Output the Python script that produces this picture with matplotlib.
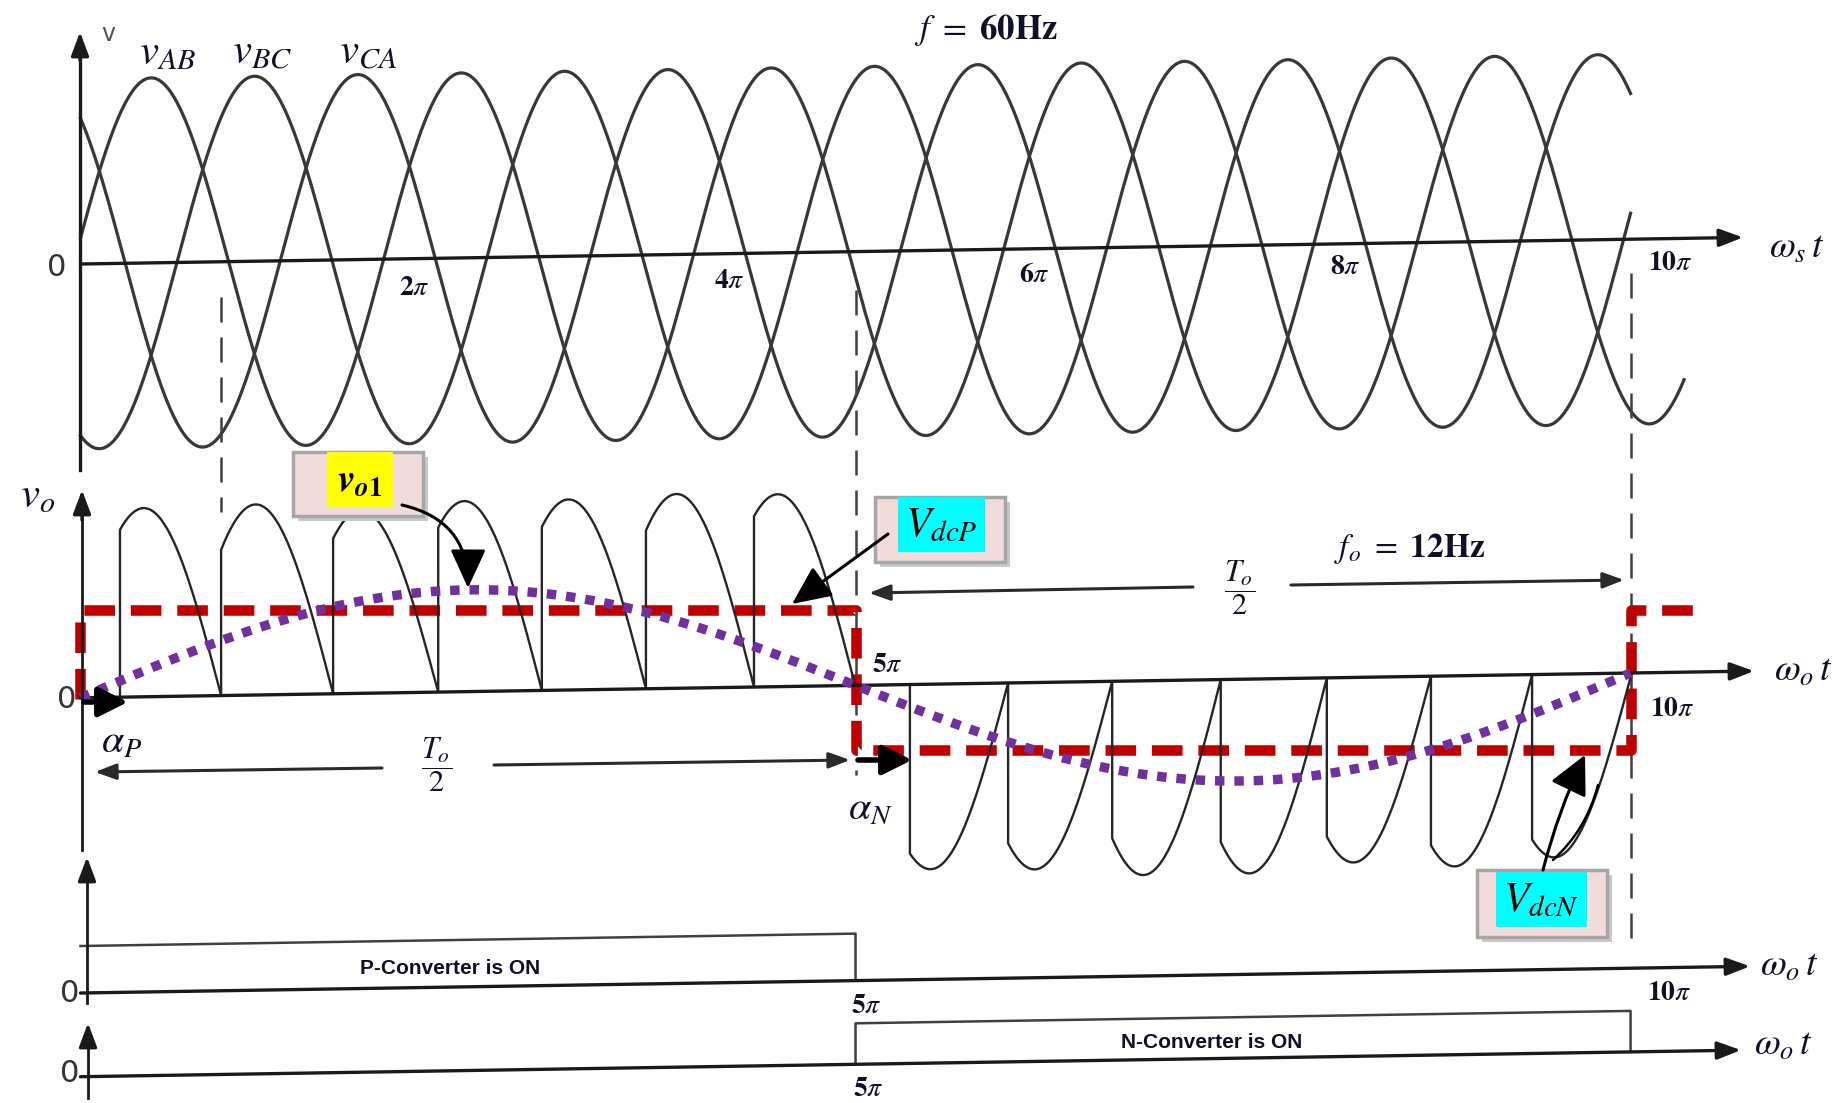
import numpy as np
import matplotlib
matplotlib.use("Agg")
import matplotlib.pyplot as plt
from matplotlib import font_manager
from matplotlib.transforms import Affine2D, blended_transform_factory
from matplotlib.patches import Rectangle

plt.rcParams['mathtext.fontset'] = 'stix'
_names = {f.name for f in font_manager.fontManager.ttflist}
NARROW = 'Liberation Sans Narrow' if 'Liberation Sans Narrow' in _names else 'Liberation Sans'

PI = np.pi
# ---------------- data (angles in rad of ω t, voltages per unit) ----------------
supply_labels = ["AB", "BC", "CA"]
supply_amplitude = [1.0, 1.0, 1.0]
supply_peak_angle = [1.43, 1.43 + 2 * PI / 3, 1.43 + 4 * PI / 3]
supply_end_angle = [10 * PI, 32.5, 10 * PI]
supply_tick_labels = ["2", "4", "6", "8", "10"]   # multiples of π

# P-converter output pulses: firing angle, extinction angle, peak value
p_fire = [0.80, 2.85, 5.12, 7.25, 9.35, 11.46, 13.65]
p_end = [2.85, 5.12, 7.25, 9.35, 11.46, 13.65, 15.70]
p_peak = [1.02, 1.03, 0.99, 1.03, 1.03, 1.05, 1.04]
# N-converter output pulses
n_fire = [16.81, 18.80, 20.91, 23.11, 25.26, 27.37, 29.42]
n_end = [18.80, 20.91, 23.11, 25.26, 27.37, 29.42, 31.44]
n_peak = [1.00, 1.01, 1.05, 1.05, 1.00, 1.03, 0.99]

# average dc output (step) and fundamental output
vdc_angles = [0.0, 0.0, 5 * PI, 5 * PI, 10 * PI, 10 * PI, 32.94]
vdc_levels = [0.0, 0.48, 0.48, -0.275, -0.275, 0.48, 0.48]
vo1_amplitude = 0.55
f_supply, f_out = 60, 12

# converter conduction intervals
p_on_angles = [0.0, 5 * PI, 5 * PI]
p_on_levels = [1, 1, 0]
n_on_angles = [5 * PI, 5 * PI, 10 * PI, 10 * PI]
n_on_levels = [0, 1, 1, 0]

# ---------------- layout ----------------
W, H = 1845, 1103
X0, K, S = 80.5, 49.34, 0.016   # x of angle 0 (px), px per rad, scan tilt
fig = plt.figure(figsize=(W / 100, H / 100), dpi=100)
SK = Affine2D().skew(0, np.arctan(S))
XL = (-X0 / K, (W - X0) / K)


def panel(y0, scale):
    ax = fig.add_axes([0, 0, 1, 1])
    ax.set_xlim(*XL)
    ax.set_ylim((y0 - H) / scale, y0 / scale)
    ax.axis('off')
    return ax, ax.transData + SK


axT, TT = panel(265.3, 185)
axM, TM = panel(699.1, 185)
axP, TP = panel(994.3, 47)
axN, TN = panel(1078.0, 41)
ov = fig.add_axes([0, 0, 1, 1])
ov.set_xlim(0, W)
ov.set_ylim(H, 0)
ov.axis('off')

LINE = '#383838'
AX = '#1a1a1a'
TXT = '#101028'


def haxis(ax, T, x_tip, lw=2.4):
    ax.annotate('', xy=(x_tip, 0), xytext=(0, 0), xycoords=T, textcoords=T,
                arrowprops=dict(arrowstyle='-|>,head_length=0.8,head_width=0.3',
                                color=AX, lw=lw, shrinkA=0, shrinkB=0,
                                mutation_scale=18))


def varrow(x, y_from, y_to):
    ov.annotate('', xy=(x, y_to), xytext=(x, y_from),
                arrowprops=dict(arrowstyle='-|>,head_length=0.8,head_width=0.3',
                                color=AX, lw=2.4, shrinkA=0, shrinkB=0,
                                mutation_scale=18))


# ---------- top: supply voltages ----------
for lab, A, pk, end in zip(supply_labels, supply_amplitude, supply_peak_angle, supply_end_angle):
    t = np.linspace(0, end, 2000)
    axT.plot(t, A * np.cos(t - pk), color=LINE, lw=2.3, transform=TT)
haxis(axT, TT, (1743 - X0) / K)

# ---------- middle: output voltage ----------
bt = blended_transform_factory(axM.transData, ov.transData)
for xv, ya, yb in [(p_end[0], 297, 512), (5 * PI, 290, 775), (10 * PI, 273, 940)]:
    axM.plot([xv, xv], [ya, yb], color='#404040', lw=1.8, ls=(0, (10, 6)), transform=bt)

axM.plot(vdc_angles, vdc_levels, color='#C00000', lw=7.6, ls=(0, (2.9, 1.5)),
         transform=axM.transData, zorder=2, solid_capstyle='butt')

xs, ys = [0, p_fire[0]], [0, 0]
for f, e, a in zip(p_fire, p_end, p_peak):
    t = np.linspace(f, e, 200)
    xs += [f] + list(t)
    ys += [0] + list(a * np.sin(e - t))
axM.plot(xs, ys, color='#262626', lw=1.7, transform=TM, zorder=3)

xs, ys = [5 * PI, n_fire[0]], [0, 0]
for f, e, a in zip(n_fire, n_end, n_peak):
    t = np.linspace(f, e, 200)
    xs += [f] + list(t)
    ys += [0] + list(-a * np.sin(e - t))
axM.plot(xs, ys, color='#262626', lw=1.7, transform=TM, zorder=3)

t = np.linspace(0, 10 * PI, 800)
axM.plot(t, vo1_amplitude * np.sin(t * f_out / f_supply), color='#7030A0', lw=6.8,
         ls=(0, (1, 1.05)), transform=TM, zorder=4)
haxis(axM, TM, (1754 - X0) / K)

# ---------- bottom: converter states ----------
axP.plot(p_on_angles, p_on_levels, color='#404040', lw=1.8, transform=TP)
axP.plot([0, p_on_angles[0]], [1, 1], color=AX, lw=3, transform=TP)
haxis(axP, TP, (1750 - X0) / K)
axN.plot(n_on_angles, n_on_levels, color='#404040', lw=1.8, transform=TN)
haxis(axN, TN, (1741 - X0) / K)

# vertical axes
ov.plot([80, 80], [470, 40], color=AX, lw=2.4)
varrow(80, 60, 32)
ov.plot([82, 82], [850, 500], color=AX, lw=2.0)
varrow(82, 520, 490)
ov.plot([87, 87], [1003, 870], color=AX, lw=2.0)
varrow(87, 880, 857)
ov.plot([88, 88], [1098, 1035], color=AX, lw=2.0)
varrow(88, 1045, 1023)


# ---------- texts ----------
def tx(x, y, s, fs, **kw):
    kw.setdefault('color', TXT)
    ov.text(x, y, s, fontsize=fs, ha='center', va='center', **kw)


def pi_lab(n):
    return r'$\mathbf{%s}\pi$' % n


tx(108, 34, 'v', 17, family='DejaVu Sans', color='#555555')
for lab, xc in zip(supply_labels, [168, 262, 368]):
    tx(xc, 52, r'$v_{%s}$' % lab, 31)
tx(986, 30, r'$f\ =\ \mathbf{60Hz}$', 25)
tx(1797, 248, r'$\omega_s\,t$', 27)
for lab, (xc, yc) in zip(supply_tick_labels, [(414, 287), (729, 280), (1034, 274), (1345, 266), (1670, 262)]):
    tx(xc, yc, pi_lab(lab), 20)

tx(57, 267, '0', 22, family='DejaVu Sans', color='#333333')
tx(38, 495, r'$v_o$', 31)
tx(67, 700, '0', 22, family='DejaVu Sans', color='#333333')
tx(887, 664, pi_lab(5), 20)
tx(1672, 708, pi_lab(10), 20)
tx(1803, 671, r'$\omega_o\,t$', 27)
tx(122, 742, r'$\alpha_P$', 29)
tx(870, 808, r'$\alpha_N$', 29)
tx(1410, 548, r'$f_o\ =\ \mathbf{12Hz}$', 24)

# T_o/2 markers
tx(437, 765, r'$\dfrac{T_o}{2}$', 22)
tx(1240, 588, r'$\dfrac{T_o}{2}$', 22)
for tail, tip in [((382, 768), (95, 772)), ((494, 765), (850, 760)),
                  ((1193, 587), (869, 593)), ((1291, 585), (1624, 580))]:
    ov.annotate('', xy=tip, xytext=tail,
                arrowprops=dict(arrowstyle='-|>,head_length=0.8,head_width=0.3',
                                color='#2a2a2a', lw=2.2, shrinkA=0, shrinkB=0,
                                mutation_scale=16))
# alpha arrows
for tail, tip in [((84, 702), (128, 702)), ((858, 760), (912, 760))]:
    ov.annotate('', xy=tip, xytext=tail,
                arrowprops=dict(arrowstyle='-|>,head_length=0.9,head_width=0.45',
                                color='black', lw=4, shrinkA=0, shrinkB=0,
                                mutation_scale=20))

# bottom labels
tx(70, 993, '0', 22, family='DejaVu Sans', color='#333333')
tx(70, 1073, '0', 22, family='DejaVu Sans', color='#333333')
tx(450, 968, 'P-Converter is ON', 15, family=NARROW, weight='bold')
tx(1212, 1042, 'N-Converter is ON', 15, family=NARROW, weight='bold')
tx(866, 1005, pi_lab(5), 20)
tx(868, 1088, pi_lab(5), 20)
tx(1669, 992, pi_lab(10), 20)
tx(1789, 966, r'$\omega_o\,t$', 27)
tx(1783, 1045, r'$\omega_o\,t$', 27)


# ---------- callout boxes ----------
def callout(box, hl, hcolor, text, fs):
    x0, y0, x1, y1 = box
    ov.add_patch(Rectangle((x0 + 5, y0 + 5), x1 - x0, y1 - y0, fc='#C8C8C8', ec='none', zorder=5))
    ov.add_patch(Rectangle((x0, y0), x1 - x0, y1 - y0, fc='#F2DCDB', ec='#A6A6A6', lw=2.5, zorder=6))
    hx0, hy0, hx1, hy1 = hl
    ov.add_patch(Rectangle((hx0, hy0), hx1 - hx0, hy1 - hy0, fc=hcolor, ec='none', zorder=7))
    ov.text((hx0 + hx1) / 2, (hy0 + hy1) / 2, text, fontsize=fs, ha='center', va='center',
            color='black', zorder=8)


callout((293, 452, 423, 516), (327, 452, 393, 507), '#FFFF00',
        r'$\mathbfit{v}_{\mathbfit{o}\mathbf{1}}$', 28)
callout((875, 497, 1005, 562), (898, 497, 985, 552), '#00FFFF', r'$V_{dcP}$', 30)
callout((1477, 870, 1607, 937), (1496, 872, 1587, 927), '#00FFFF', r'$V_{dcN}$', 30)

ov.annotate('', xy=(468, 588), xytext=(402, 505),
            arrowprops=dict(arrowstyle='-|>,head_length=1.2,head_width=0.55', color='black',
                            lw=2.2, shrinkA=0, shrinkB=0, mutation_scale=20,
                            connectionstyle='arc3,rad=-0.4'), zorder=9)
ov.annotate('', xy=(792, 604), xytext=(888, 534),
            arrowprops=dict(arrowstyle='-|>,head_length=1.2,head_width=0.55', color='black',
                            lw=2.2, shrinkA=0, shrinkB=0, mutation_scale=20), zorder=9)
ov.annotate('', xy=(1585, 755), xytext=(1543, 870),
            arrowprops=dict(arrowstyle='-|>,head_length=1.2,head_width=0.6', color='black',
                            lw=2.2, shrinkA=0, shrinkB=0, mutation_scale=20,
                            connectionstyle='arc3,rad=-0.05'), zorder=9)
ov.annotate('', xy=(1598, 785), xytext=(1553, 860),
            arrowprops=dict(arrowstyle='-', color='black', lw=1.8, shrinkA=0, shrinkB=0,
                            connectionstyle='arc3,rad=0.15'), zorder=9)

fig.savefig('out.png', dpi=100, facecolor='white')
